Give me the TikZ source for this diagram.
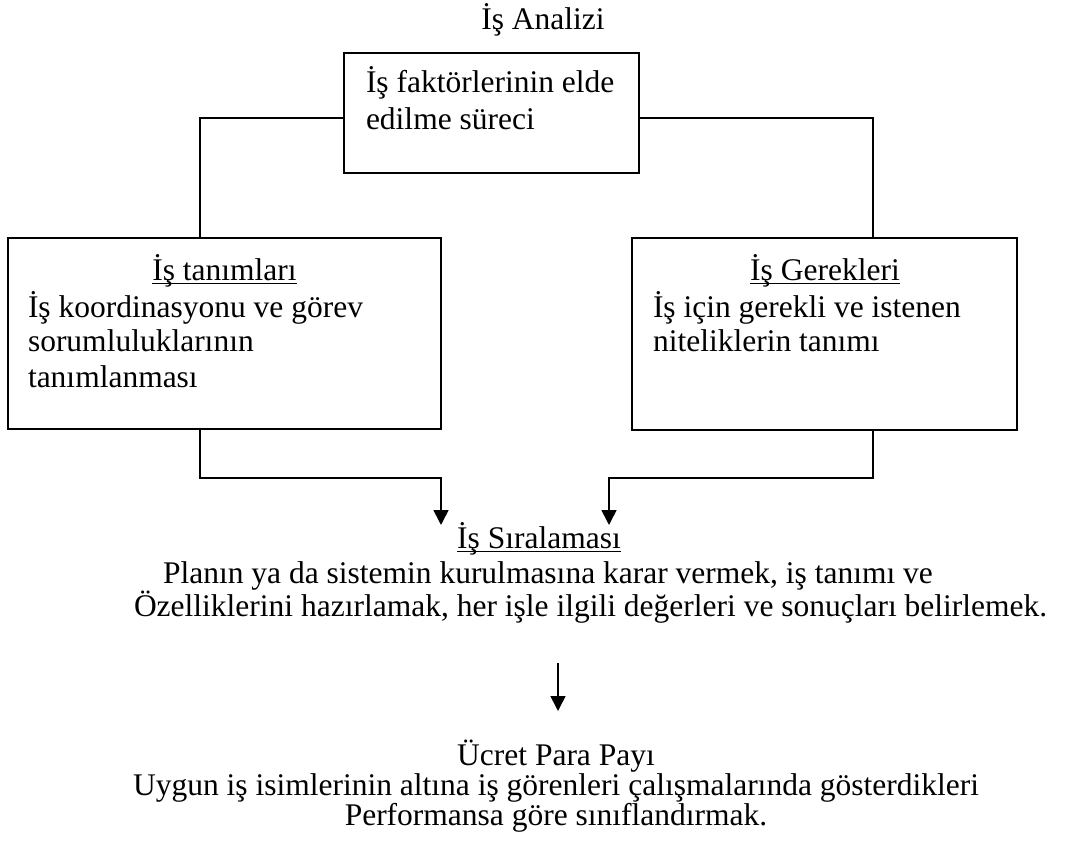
\documentclass[tikz,border=0pt]{standalone}
\usepackage{fontspec}
\setmainfont{Liberation Serif}
\usetikzlibrary{arrows.meta}
\newcommand{\ulbox}[1]{\setbox0\hbox{#1}\rlap{\rule[-4.4pt]{\wd0}{1.7pt}}\box0}
\begin{document}
\begin{tikzpicture}[x=1pt,y=-1pt,
  box/.style={draw, line width=1.6pt, inner sep=0pt, outer sep=0pt},
  conn/.style={line width=1.6pt},
  arr/.style={line width=1.6pt, -{Triangle[length=15pt,width=15pt]}},
  txt/.style={inner sep=0pt, outer sep=0pt, font=\fontsize{31.5}{36}\selectfont}]
\useasboundingbox (0,0) rectangle (1077,853);
% boxes
\node[box, minimum width=295pt, minimum height=120pt] (top) at (491.5,113) {};
\node[box, minimum width=433pt, minimum height=191pt] (left) at (224.5,333.5) {};
\node[box, minimum width=385pt, minimum height=192pt] (right) at (824.5,334) {};
% texts
\node[txt, anchor=base] (title) at (543,30) {İş Analizi};
\node[txt, anchor=base west] (t1) at (366,93) {İş faktörlerinin elde};
\node[txt, anchor=base west] (t2) at (366,130) {edilme süreci};
\node[txt, anchor=base] (lt) at (224.5,280) {\ulbox{İş tanımları}};
\node[txt, anchor=base west] (l1) at (28,317) {İş koordinasyonu ve görev};
\node[txt, anchor=base west] (l2) at (28,352) {sorumluluklarının};
\node[txt, anchor=base west] (l3) at (28,387) {tanımlanması};
\node[txt, anchor=base] (rt) at (825,280) {\ulbox{İş Gerekleri}};
\node[txt, anchor=base west] (r1) at (653,317) {İş için gerekli ve istenen};
\node[txt, anchor=base west] (r2) at (653,352) {niteliklerin tanımı};
\node[txt, anchor=base] (sira) at (539,548) {\ulbox{İş Sıralaması}};
\node[txt, anchor=base west] (p1) at (163,583) {Planın ya da sistemin kurulmasına karar vermek, iş tanımı ve};
\node[txt, anchor=base west] (p2) at (134,616) {Özelliklerini hazırlamak, her işle ilgili değerleri ve sonuçları belirlemek.};
\node[txt, anchor=base] (u1) at (556,765) {Ücret Para Payı};
\node[txt, anchor=base] (u2) at (556,795) {Uygun iş isimlerinin altına iş görenleri çalışmalarında gösterdikleri};
\node[txt, anchor=base] (u3) at (556,825) {Performansa göre sınıflandırmak.};
% connector coordinates
\coordinate (cl) at (200,118);
\coordinate (cr) at (873,118);
\coordinate (dl) at (200,478);
\coordinate (dr) at (873,478);
\coordinate (tl) at (441,525);
\coordinate (tr) at (609,525);
\coordinate (a1) at (558,663);
\coordinate (a2) at (558,711);
% connectors
\draw[conn] (top.west |- cl) -| (left.north -| cl);
\draw[conn] (top.east |- cr) -| (right.north -| cr);
\draw[arr] (left.south -| dl) |- (tl |- dl) -- (tl);
\draw[arr] (right.south -| dr) |- (tr |- dr) -- (tr);
\draw[arr] (a1) -- (a2);
\end{tikzpicture}
\end{document}
